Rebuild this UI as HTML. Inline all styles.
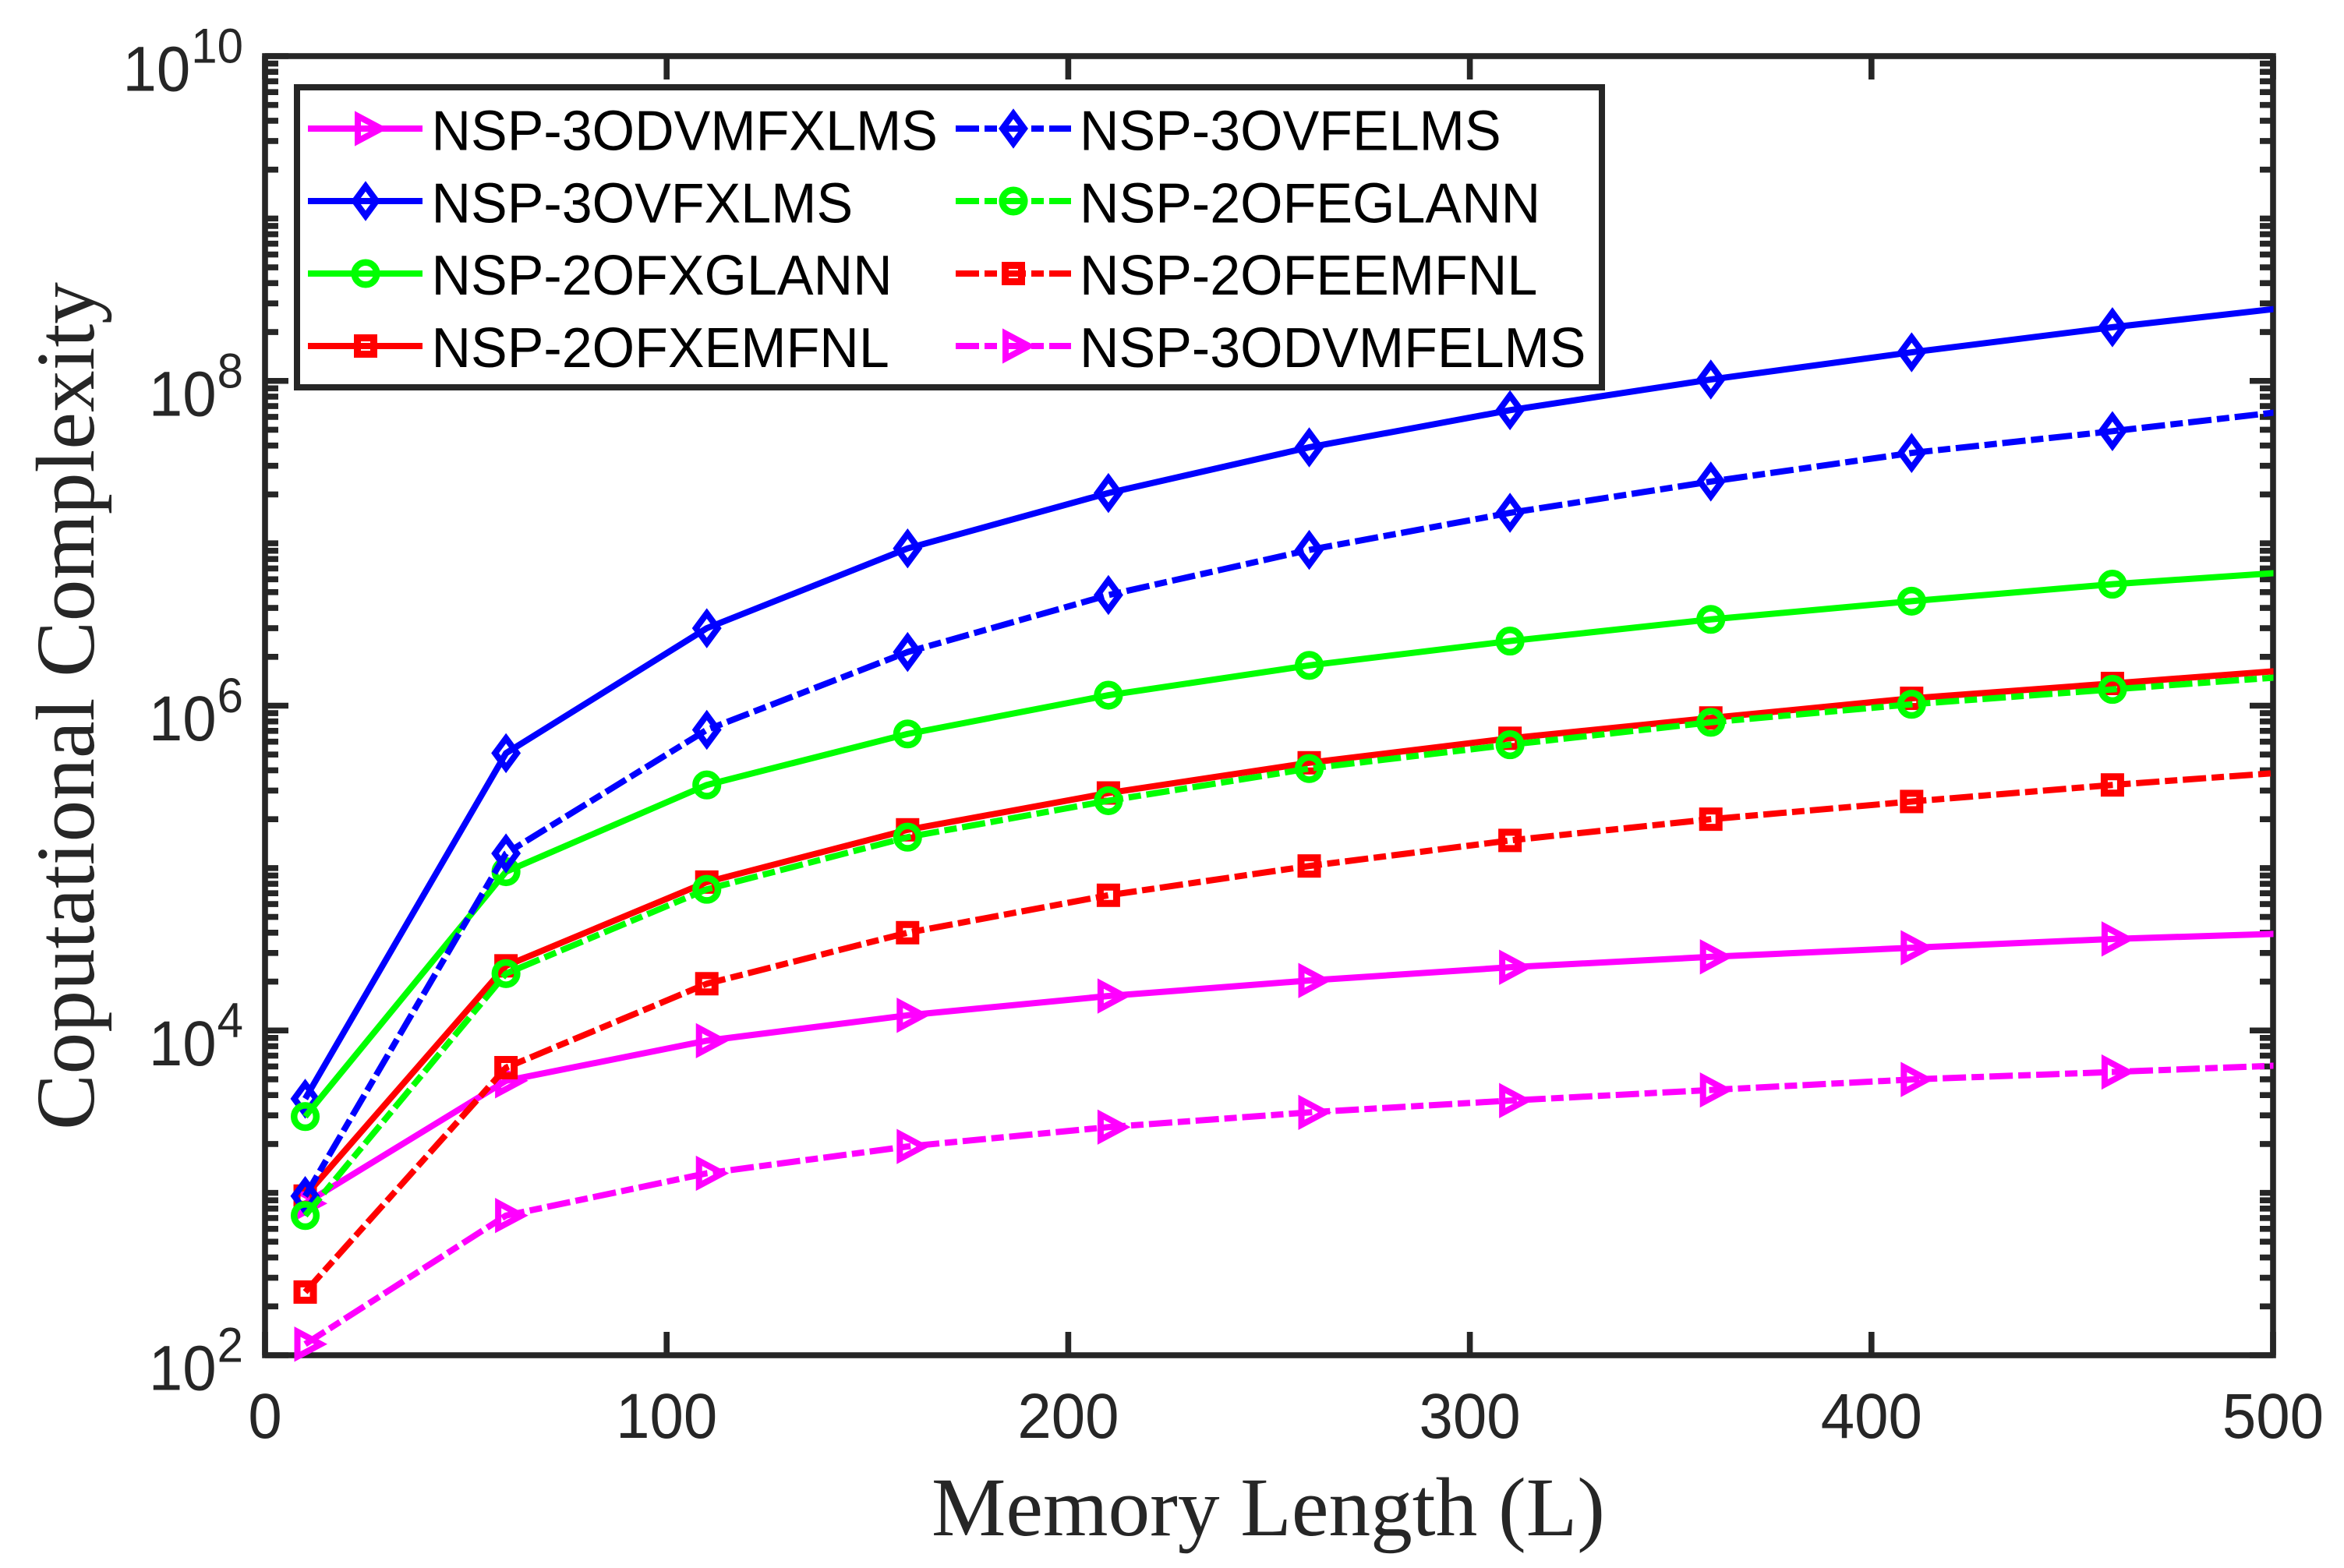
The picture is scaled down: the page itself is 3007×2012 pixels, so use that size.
<!DOCTYPE html>
<html lang="en">
<head>
<meta charset="utf-8">
<title>Computational complexity vs memory length</title>
<style>
html,body{margin:0;padding:0;background:#fff;}
svg{display:block;}
.tick-label{font-family:"Liberation Sans",Arial,sans-serif;fill:#262626;}
.legend-text{font-family:"Liberation Sans",Arial,sans-serif;font-size:70px;fill:#000;}
.axis-title{font-family:"Liberation Serif","Times New Roman",serif;font-size:107.3px;fill:#262626;}
</style>
</head>
<body>
<svg id="chart" xmlns="http://www.w3.org/2000/svg" width="3007" height="2012" viewBox="0 0 3007 2012">
  <defs>
    <clipPath id="plot-clip"><rect x="340" y="0" width="2576.5" height="2012"/></clipPath>
  </defs>
  <rect x="0" y="0" width="3007" height="2012" fill="#ffffff"/>
  <g id="axes"></g>
  <g id="series"></g>
  <text class="axis-title" x="1627" y="1970" text-anchor="middle">Memory Length (L)</text>
  <text class="axis-title" x="0" y="0" text-anchor="middle" transform="translate(120 906) rotate(-90)">Coputational Complexity</text>
  <g id="legend">
    <rect x="381" y="112" width="1674" height="385" fill="#ffffff" stroke="#262626" stroke-width="8"/>
    <g id="legend-swatches"></g>
    <text class="legend-text" transform="translate(553.5 192.6) scale(1 1.04)">NSP-3ODVMFXLMS</text>
    <text class="legend-text" transform="translate(553.5 285.3) scale(1 1.04)">NSP-3OVFXLMS</text>
    <text class="legend-text" transform="translate(553.5 378) scale(1 1.04)">NSP-2OFXGLANN</text>
    <text class="legend-text" transform="translate(553.5 470.8) scale(1 1.04)">NSP-2OFXEMFNL</text>
    <text class="legend-text" transform="translate(1385 192.6) scale(1 1.04)">NSP-3OVFELMS</text>
    <text class="legend-text" transform="translate(1385 285.3) scale(1 1.04)">NSP-2OFEGLANN</text>
    <text class="legend-text" transform="translate(1385 378) scale(1 1.04)">NSP-2OFEEMFNL</text>
    <text class="legend-text" transform="translate(1385 470.8) scale(1 1.04)">NSP-3ODVMFELMS</text>
  </g>
</svg>
<script>
// ---- chart data ----
const memoryLengths = [10, 60, 110, 160, 210, 260, 310, 360, 410, 460, 510];
const nsp3odvmfxlms = [860, 4900, 8650, 12400, 16300, 20300, 24500, 28400, 32300, 36600, 40000];
const nsp3ovfxlms = [3800, 510000, 3000000, 9300000, 20400000, 39000000, 66000000, 102000000, 150000000, 214000000, 295000000];
const nsp2ofxglann = [2950, 95000, 325000, 670000, 1160000, 1770000, 2500000, 3400000, 4400000, 5600000, 6800000];
const nsp2ofxemfnl = [955, 25000, 82000, 172000, 290000, 445000, 630000, 840000, 1110000, 1370000, 1700000];
const nsp3ovfelms = [955, 123000, 710000, 2140000, 4800000, 9100000, 15400000, 24000000, 36000000, 49000000, 68000000];
const nsp2ofeglann = [725, 22400, 74000, 155000, 260000, 410000, 575000, 790000, 1020000, 1260000, 1550000];
const nsp2ofeemfnl = [245, 5900, 19400, 40000, 68000, 103000, 148000, 200000, 257000, 325000, 400000];
const nsp3odvmfelms = [117, 725, 1320, 1930, 2540, 3130, 3700, 4300, 4990, 5550, 6200];
const xTickLabels = [0, 100, 200, 300, 400, 500];
const yTickExponents = [2, 3, 4, 5, 6, 7, 8, 9, 10];
const yLabelExponents = [2, 4, 6, 8, 10];
const yMinorMultiples = [2, 3, 4, 5, 6, 7, 8, 9];

// ---- layout ----
const NS = 'http://www.w3.org/2000/svg';
const plotLeft = 340, plotRight = 2916, plotTop = 72, plotBottom = 1739;
const xMin = 0, xMax = 500, logMin = 2, logMax = 10;
const INK = '#262626', SPINE = 7.6, MAJOR = 30, MINOR = 17;
const LINE = 8, DASHDOT = '30 7 16 7';
const DIGIT_STRETCH = 1.05;

function xScale(v) { return plotLeft + (v - xMin) / (xMax - xMin) * (plotRight - plotLeft); }
function yScale(v) { return plotBottom - (Math.log10(v) - logMin) / (logMax - logMin) * (plotBottom - plotTop); }

function make(tag, attrs) {
  const el = document.createElementNS(NS, tag);
  for (const k in attrs) el.setAttribute(k, attrs[k]);
  return el;
}

const axes = document.getElementById('axes');

function tickLine(x1, y1, x2, y2) {
  return make('line', { x1: x1, y1: y1, x2: x2, y2: y2, stroke: INK, 'stroke-width': SPINE });
}

function digitText(str, x, y, size, anchor) {
  const t = make('text', { x: 0, y: 0, 'text-anchor': anchor, 'font-size': size, class: 'tick-label', transform: 'translate(' + x + ' ' + y + ') scale(1 ' + DIGIT_STRETCH + ')' });
  t.textContent = str;
  return t;
}

// x ticks + labels
xTickLabels.forEach(function (t) {
  const x = xScale(t);
  const bottomTick = tickLine(x, plotBottom, x, plotBottom - MAJOR);
  
  
  axes.appendChild(bottomTick);
  const topTick = tickLine(x, plotTop, x, plotTop + MAJOR);
  
  
  axes.appendChild(topTick);
  const label = digitText(String(t), x, 1844.9, 78, 'middle');
  
  
  axes.appendChild(label);
});

// y ticks
yTickExponents.forEach(function (e) {
  const y = yScale(Math.pow(10, e));
  const len = yLabelExponents.indexOf(e) >= 0 ? MAJOR : MINOR;
  const leftTick = tickLine(plotLeft, y, plotLeft + len, y);
  
  
  axes.appendChild(leftTick);
  const rightTick = tickLine(plotRight, y, plotRight - len, y);
  
  
  axes.appendChild(rightTick);
  if (e < logMax) {
    yMinorMultiples.forEach(function (m) {
      const my = yScale(m * Math.pow(10, e));
      const minorLeft = tickLine(plotLeft, my, plotLeft + MINOR, my);
      
      
      axes.appendChild(minorLeft);
      const minorRight = tickLine(plotRight, my, plotRight - MINOR, my);
      
      
      axes.appendChild(minorRight);
    });
  }
});

// y tick labels
yLabelExponents.forEach(function (e) {
  const y = yScale(Math.pow(10, e));
  const expText = String(e);
  const expRight = 312;
  const expStart = expRight - expText.length * 33.4;
  const base = digitText('10', expStart - 1, y + 44.7, 78, 'end');
  
  
  axes.appendChild(base);
  const sup = digitText(expText, expRight, y + 8.5, 60, 'end');
  
  
  axes.appendChild(sup);
});

// axes box
const box = make('rect', { x: plotLeft, y: plotTop, width: plotRight - plotLeft, height: plotBottom - plotTop, fill: 'none', stroke: INK, 'stroke-width': SPINE });


axes.appendChild(box);

// ---- markers ----
function marker(kind, color, cx, cy) {
  const common = { fill: 'none', stroke: color, 'stroke-miterlimit': 10 };
  let el;
  if (kind === 'triangle') {
    el = make('polygon', Object.assign({ 'stroke-width': 8, points: (cx - 10) + ',' + (cy - 16) + ' ' + (cx + 20) + ',' + cy + ' ' + (cx - 10) + ',' + (cy + 16) }, common));
  } else if (kind === 'diamond') {
    el = make('polygon', Object.assign({ 'stroke-width': 8, points: cx + ',' + (cy - 19) + ' ' + (cx + 14) + ',' + cy + ' ' + cx + ',' + (cy + 19) + ' ' + (cx - 14) + ',' + cy }, common));
  } else if (kind === 'circle') {
    el = make('circle', Object.assign({ 'stroke-width': 8.5, cx: cx, cy: cy, r: 14.3 }, common));
  } else {
    el = make('rect', Object.assign({ 'stroke-width': 9, x: cx - 10.5, y: cy - 10.5, width: 21, height: 21 }, common));
  }
  return el;
}

// ---- series (plot order) ----
const seriesValues = [nsp3odvmfxlms, nsp3ovfxlms, nsp2ofxglann, nsp2ofxemfnl, nsp3ovfelms, nsp2ofeglann, nsp2ofeemfnl, nsp3odvmfelms];
const seriesKeys = ['nsp-3odvmfxlms', 'nsp-3ovfxlms', 'nsp-2ofxglann', 'nsp-2ofxemfnl', 'nsp-3ovfelms', 'nsp-2ofeglann', 'nsp-2ofeemfnl', 'nsp-3odvmfelms'];
const seriesColors = ['#ff00ff', '#0000ff', '#00ff00', '#ff0000', '#0000ff', '#00ff00', '#ff0000', '#ff00ff'];
const seriesMarkers = ['triangle', 'diamond', 'circle', 'square', 'diamond', 'circle', 'square', 'triangle'];
const seriesDashed = [false, false, false, false, true, true, true, true];

const seriesGroup = document.getElementById('series');
seriesValues.forEach(function (vals, i) {
  const g = make('g', {});
  
  
  const pts = vals.map(function (v, j) { return xScale(memoryLengths[j]) + ',' + yScale(v); }).join(' ');
  const line = make('polyline', { points: pts, fill: 'none', stroke: seriesColors[i], 'stroke-width': LINE, 'stroke-linejoin': 'round', 'clip-path': 'url(#plot-clip)' });
  if (seriesDashed[i]) line.setAttribute('stroke-dasharray', DASHDOT);
  
  
  g.appendChild(line);
  vals.forEach(function (v, j) {
    if (memoryLengths[j] > xMax) return;
    const m = marker(seriesMarkers[i], seriesColors[i], xScale(memoryLengths[j]), yScale(v));
    
    
    g.appendChild(m);
  });
  seriesGroup.appendChild(g);
});

// ---- legend swatches ----
const swatchRows = [165, 258, 351, 444];
const swatchGroup = document.getElementById('legend-swatches');
seriesKeys.forEach(function (key, i) {
  const right = i >= 4;
  const y = swatchRows[i % 4];
  const x1 = right ? 1226 : 395;
  const x2 = right ? 1374 : 542;
  const cx = right ? 1300 : 469;
  const l = make('line', { x1: x1, y1: y, x2: x2, y2: y, stroke: seriesColors[i], 'stroke-width': LINE });
  if (seriesDashed[i]) l.setAttribute('stroke-dasharray', DASHDOT);
  
  
  swatchGroup.appendChild(l);
  const m = marker(seriesMarkers[i], seriesColors[i], cx, y);
  
  
  swatchGroup.appendChild(m);
});
</script>
</body>
</html>
